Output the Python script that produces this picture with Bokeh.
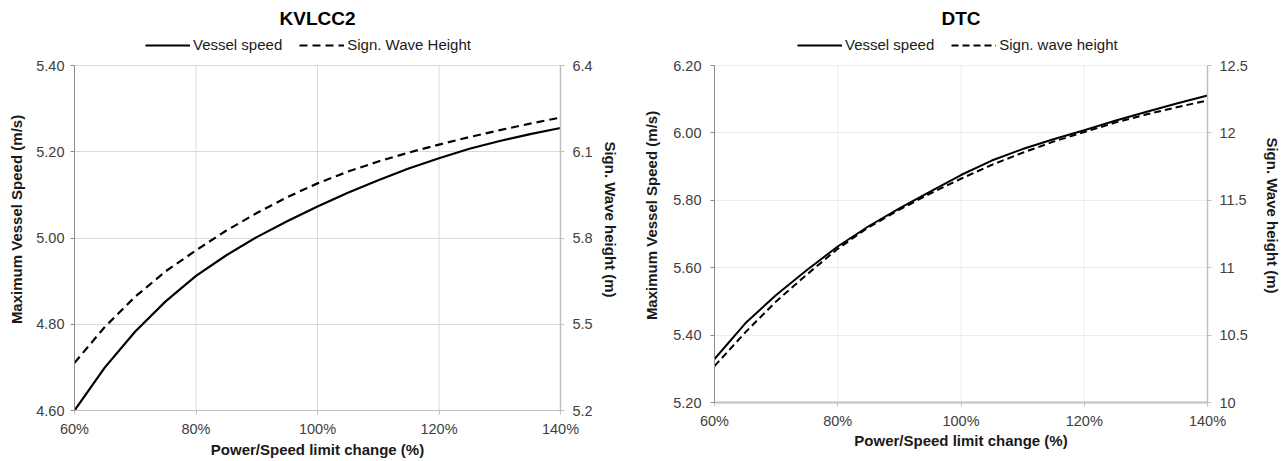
from bokeh.plotting import figure
from bokeh.models import (Range1d, LinearAxis, FixedTicker, NumeralTickFormatter,
                          PrintfTickFormatter, Legend, LegendItem)
from bokeh.layouts import row
from bokeh.embed import file_html
from bokeh.resources import INLINE

# ---------------- data ----------------
power_pct = [60, 65, 70, 75, 80, 85, 90, 95, 100, 105, 110, 115, 120, 125, 130, 135, 140]

kvlcc2_speed = [4.600, 4.700, 4.783, 4.853, 4.912, 4.960, 5.002, 5.039, 5.073,
                5.105, 5.134, 5.161, 5.185, 5.207, 5.225, 5.241, 5.255]
kvlcc2_wave = [5.366, 5.491, 5.596, 5.684, 5.757, 5.826, 5.887, 5.942, 5.990,
               6.031, 6.066, 6.097, 6.125, 6.151, 6.175, 6.198, 6.219]

dtc_speed = [5.329, 5.435, 5.519, 5.593, 5.663, 5.723, 5.776, 5.826, 5.875,
             5.918, 5.952, 5.981, 6.008, 6.036, 6.062, 6.087, 6.111]
dtc_wave = [10.27, 10.52, 10.75, 10.95, 11.14, 11.30, 11.43, 11.55, 11.66,
            11.763, 11.853, 11.935, 12.006, 12.076, 12.136, 12.190, 12.241]

x_ticks = [60, 80, 100, 120, 140]
kv_speed_ticks = [4.6, 4.8, 5.0, 5.2, 5.4]
kv_wave_ticks = [5.2, 5.5, 5.8, 6.1, 6.4]
dtc_speed_ticks = [5.2, 5.4, 5.6, 5.8, 6.0, 6.2]
dtc_wave_ticks = [10, 10.5, 11, 11.5, 12, 12.5]

FONT = "Liberation Sans"
TXT = "#404040"


def style_axis(ax, line_color, line_width=1, label_standoff=6, title_standoff=8):
    ax.axis_line_color = line_color
    ax.axis_line_width = line_width
    ax.major_tick_line_color = line_color
    ax.major_tick_out = 4
    ax.major_tick_in = 0
    ax.minor_tick_line_color = None
    ax.major_label_text_font = FONT
    ax.major_label_text_font_size = "14.5px"
    ax.major_label_text_color = TXT
    ax.major_label_standoff = label_standoff
    ax.axis_label_text_font = FONT
    ax.axis_label_text_font_size = "15px"
    ax.axis_label_text_font_style = "bold"
    ax.axis_label_text_color = "#1a1a1a"
    ax.axis_label_standoff = title_standoff


def make_chart(title, speed, wave, speed_ticks, wave_ticks, wave_fmt, wave_title,
               legend_labels, width, height, borders, data_px, extra_px,
               grid_dash, dash, lw, title_offset, std, legend_x):
    left, right, top, bottom = borders
    s0, s1 = speed_ticks[0], speed_ticks[-1]
    w0, w1 = wave_ticks[0], wave_ticks[-1]
    # room above the data area (inside the frame) for the legend
    frac = extra_px / data_px
    p = figure(width=width, height=height, output_backend="svg", toolbar_location=None,
               x_range=Range1d(60, 140),
               y_range=Range1d(s0, s1 + (s1 - s0) * frac),
               min_border_left=left, min_border_right=right,
               min_border_top=top, min_border_bottom=bottom)
    p.outline_line_color = None
    p.background_fill_color = "white"
    p.border_fill_color = "white"
    p.extra_y_ranges = {"wave": Range1d(w0, w1 + (w1 - w0) * frac)}

    # vertical grid lines limited to the data area
    p.xgrid.visible = False
    p.segment(x0=x_ticks, x1=x_ticks, y0=[s0] * len(x_ticks), y1=[s1] * len(x_ticks),
              line_color="#d9d9d9", line_width=1,
              line_dash=grid_dash if grid_dash else "solid")
    p.ygrid[0].grid_line_color = "#d9d9d9"
    p.ygrid[0].grid_line_width = 1
    if grid_dash:
        p.ygrid[0].grid_line_dash = grid_dash

    r1 = p.line(power_pct, speed, line_color="black", line_width=lw)
    r2 = p.line(power_pct, wave, y_range_name="wave", line_color="black",
                line_width=lw, line_dash=dash)

    # axes
    p.xaxis.ticker = FixedTicker(ticks=x_ticks)
    p.xaxis.formatter = PrintfTickFormatter(format="%d%%")
    p.xaxis.axis_label = "Power/Speed limit change (%)"
    style_axis(p.xaxis[0], "#bfbfbf", std["xw"], std["xl"], std["xt"])

    p.yaxis.ticker = FixedTicker(ticks=speed_ticks)
    p.yaxis.formatter = NumeralTickFormatter(format="0.00")
    p.yaxis.axis_label = "Maximum Vessel Speed (m/s)"
    p.yaxis.bounds = (s0, s1)
    style_axis(p.yaxis[0], "#8c8c8c", 1, std["yl"], std["yt"])

    ax2 = LinearAxis(y_range_name="wave", ticker=FixedTicker(ticks=wave_ticks),
                     formatter=NumeralTickFormatter(format=wave_fmt),
                     axis_label=wave_title, bounds=(w0, w1))
    style_axis(ax2, "#bfbfbf", 1.5, std["rl"], std["rt"])
    p.add_layout(ax2, "right")

    # legend inside the frame, in the strip above the data area
    frame_h = height - top - bottom
    legend = Legend(items=[LegendItem(label=legend_labels[0], renderers=[r1]),
                           LegendItem(label=legend_labels[1], renderers=[r2])],
                    orientation="horizontal",
                    location=(legend_x, frame_h - extra_px + 12),
                    border_line_color=None, background_fill_alpha=0,
                    label_text_font=FONT, label_text_font_size="15px",
                    label_text_color="#1a1a1a", glyph_width=45, glyph_height=14,
                    label_height=14, label_standoff=3, spacing=17,
                    padding=0, margin=0)
    p.add_layout(legend, "center")

    p.title.text = title
    p.title.align = "center"
    p.title.text_font = FONT
    p.title.text_font_size = "19px"
    p.title.text_font_style = "bold"
    p.title.text_color = "black"
    p.title.offset = title_offset
    p.title.standoff = 0
    return p


p1 = make_chart("KVLCC2", kvlcc2_speed, kvlcc2_wave, kv_speed_ticks, kv_wave_ticks,
                "0.0", "Sign. Wave height (m)",
                ["Vessel speed", "Sign. Wave Height"], 640, 461, (74, 80, 28, 51),
                345, 37, None, "8 5", 2.2, -8,
                dict(xw=1, xl=6, xt=1, yl=6, yt=8, rl=8, rt=6), 71)

p2 = make_chart("DTC", dtc_speed, dtc_wave, dtc_speed_ticks, dtc_wave_ticks,
                "0.[0]", "Sign. Wave height (m)",
                ["Vessel speed", "Sign. wave height"], 647, 453, (74, 80, 28, 51),
                337, 37, "1 1", "7 4", 2, 0,
                dict(xw=2, xl=6, xt=0, yl=9, yt=10, rl=8, rt=13), 83)

layout = row(p1, p2)
open("out.html", "w").write(file_html(layout, INLINE))
